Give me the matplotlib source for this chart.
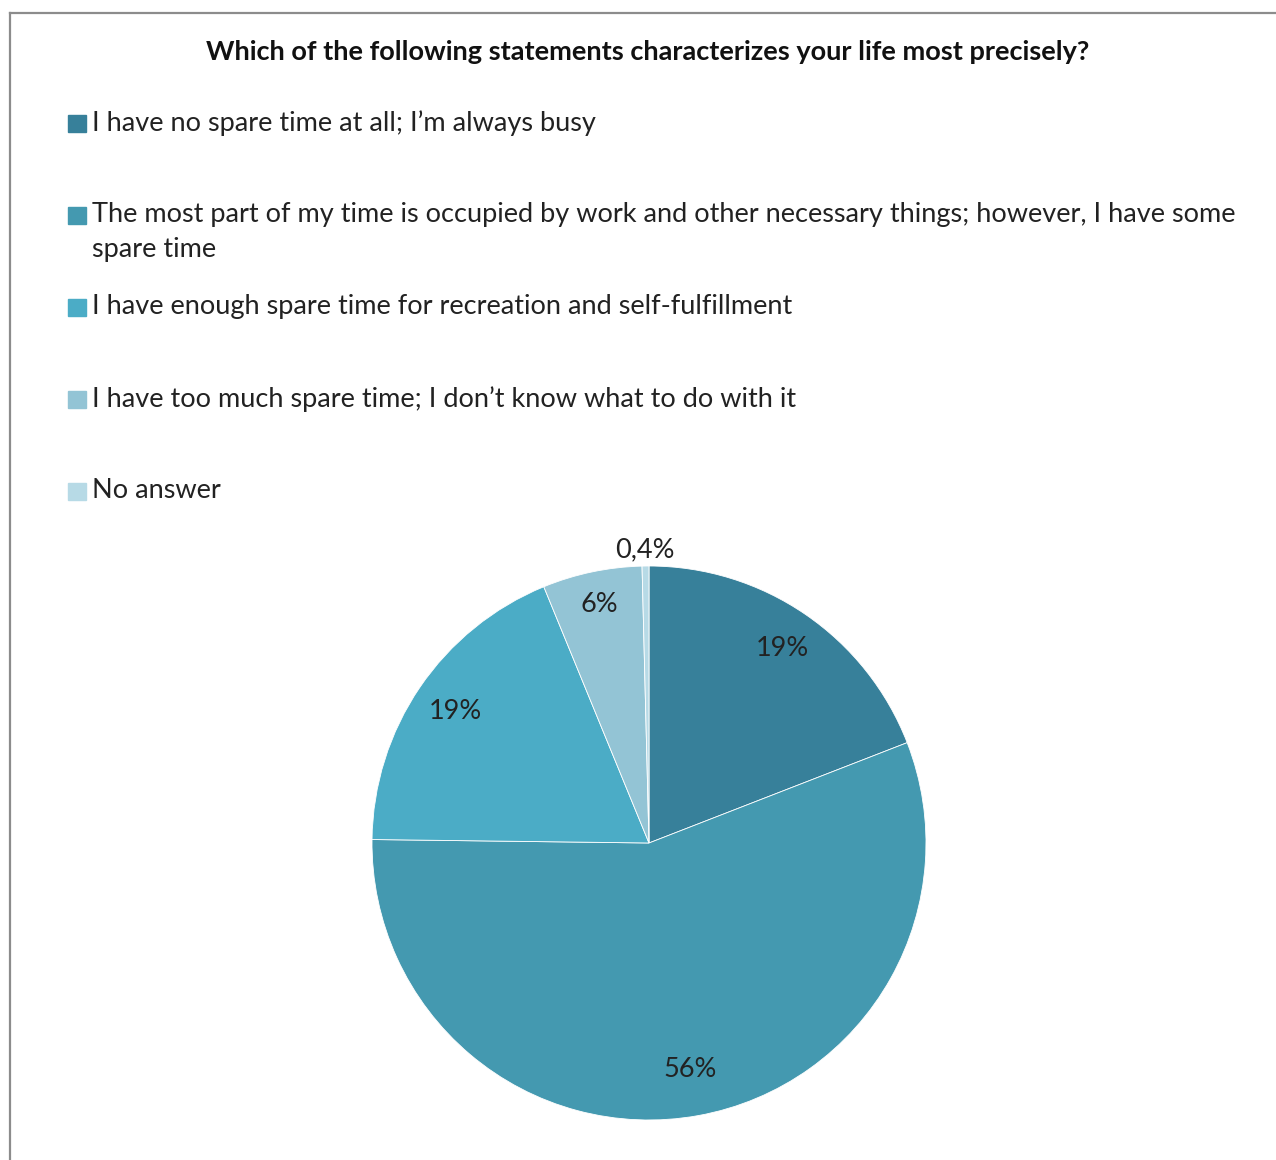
import matplotlib.pyplot as plt
from matplotlib.lines import Line2D
from matplotlib.patches import Rectangle
import numpy as np

plt.rcParams['font.family'] = ['Lato', 'DejaVu Sans']

title = 'Which of the following statements characterizes your life most precisely?'
categories = [
    'I have no spare time at all; I\u2019m always busy',
    'The most part of my time is occupied by work and other necessary things; however, I have some\nspare time',
    'I have enough spare time for recreation and self-fulfillment',
    'I have too much spare time; I don\u2019t know what to do with it',
    'No answer',
]
values = [19.1, 56.1, 18.6, 5.8, 0.4]
value_labels = ['19%', '56%', '19%', '6%', '0,4%']
colors = ['#37809A', '#4499B0', '#4BACC6', '#93C4D5', '#B7DAE6']
label_dist = [0.85, 0.83, 0.845, 0.88, 1.06]

W, H = 1276, 1160
fig = plt.figure(figsize=(W / 100, H / 100), dpi=100)

# frame (only top and left edges are visible in the crop)
fig.add_artist(Line2D([10 / W, 10 / W], [0, 1 - 13 / H], color='#8c8c8c', lw=1.6))
fig.add_artist(Line2D([10 / W, 1], [1 - 13 / H, 1 - 13 / H], color='#8c8c8c', lw=1.6))

fig.text(648 / W, 1 - 52 / H, title, ha='center', va='center',
         fontsize=19.5, fontweight='bold', color='#111111')

# legend, one 92px slot per entry
for i, (lab, c) in enumerate(zip(categories, colors)):
    y = 124 + 92 * i
    fig.add_artist(Rectangle((68 / W, 1 - (y + 8) / H), 18 / W, 17 / H,
                             color=c, transform=fig.transFigure))
    fig.text(92 / W, 1 - (y - 14) / H, lab, ha='left', va='top',
             fontsize=19.5, color='#222222', linespacing=1.48)

cx, cy, r = 649, 843, 277
ax = fig.add_axes([(cx - r) / W, (H - cy - r) / H, 2 * r / W, 2 * r / H])
wedges, _ = ax.pie(values, colors=colors, startangle=90, counterclock=False,
                   wedgeprops=dict(edgecolor='white', linewidth=0.6))
ax.set_xlim(-1, 1)
ax.set_ylim(-1, 1)

for w, txt, d in zip(wedges, value_labels, label_dist):
    ang = np.deg2rad((w.theta1 + w.theta2) / 2)
    ax.text(d * np.cos(ang), d * np.sin(ang), txt, ha='center', va='center',
            fontsize=19.5, color='#222222')

fig.savefig('out.png', dpi=100)
